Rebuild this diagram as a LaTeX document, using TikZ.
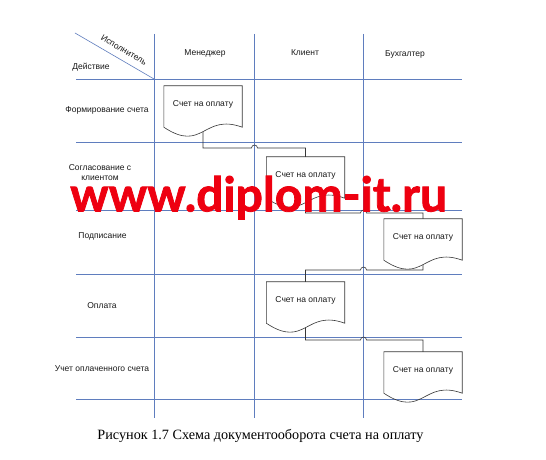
\documentclass[tikz,border=0pt]{standalone}
\usepackage{fontspec}
\setmainfont{Liberation Serif}
\setsansfont{Liberation Sans}
\newfontfamily\wmfont[FakeBold=1.6]{Lato}
\begin{document}
\begin{tikzpicture}[x=1pt,y=1pt,
  grid/.style={draw={rgb,255:red,95;green,125;blue,190}, line width=0.6pt},
  docline/.style={draw={rgb,255:red,55;green,55;blue,55}, line width=0.6pt},
  conn/.style={draw={rgb,255:red,55;green,55;blue,55}, line width=0.6pt},
  lbl/.style={font=\sffamily\fontsize{8.5}{10}\selectfont, text={rgb,255:red,25;green,25;blue,25}, inner sep=0pt, align=center},
  docbox/.style={minimum width=78pt, minimum height=45.4pt, inner sep=0pt, text depth=11pt,
    font=\sffamily\fontsize{8.5}{10}\selectfont, text={rgb,255:red,25;green,25;blue,25}}]
\useasboundingbox (0,0) rectangle (546,460);
\fill[white] (0,0) rectangle (546,460);
% grid
\foreach \y in {381,318,250,186,123,61} \draw[grid] (76,\y) -- (462,\y);
\foreach \x in {154,254.5,363.5} \draw[grid] (\x,426) -- (\x,42);
\draw[grid] (75,427) -- (154,381);
% header texts
\node[lbl, rotate=-30.2] (isp) at (124,410) {Исполнитель};
\node[lbl] (deis) at (91,393) {Действие};
\node[lbl] (man) at (205,407) {Менеджер};
\node[lbl] (cli) at (305,407) {Клиент};
\node[lbl] (buh) at (405,406) {Бухгалтер};
% row labels
\node[lbl] (r1) at (107,350) {Формирование счета};
\node[lbl] (r2) at (100,287) {Согласование с\\клиентом};
\node[lbl] (r3) at (102.5,224) {Подписание};
\node[lbl] (r4) at (102,154) {Оплата};
\node[lbl] (r5) at (102,91) {Учет оплаченного счета};
% documents
\newcommand\drawdoc[1]{%
  \draw[docline] ([yshift=4.4pt]#1.south west) -- (#1.north west) -- (#1.north east) -- ([yshift=4.4pt]#1.south east)
    .. controls ([yshift=18.7pt]#1.south) and ([yshift=-21.7pt]#1.south) .. ([yshift=4.4pt]#1.south west);}
\node[docbox] (d1) at (203,351.3) {Счет на оплату};
\node[docbox] (d2) at (305.5,280.3) {Счет на оплату};
\node[docbox] (d3) at (423,218.3) {Счет на оплату};
\node[docbox] (d4) at (305.5,155.3) {Счет на оплату};
\node[docbox] (d5) at (423,85.3) {Счет на оплату};
\drawdoc{d1}\drawdoc{d2}\drawdoc{d3}\drawdoc{d4}\drawdoc{d5}
% connectors with hops
\draw[conn] (d1.south) |- (251.5,312) arc[start angle=180,end angle=0,radius=3] -| (d2.north);
\draw[conn] (d2.south) |- (360.5,247) arc[start angle=180,end angle=0,radius=3] -| (d3.north);
\draw[conn] (d3.south) |- (366.5,190) arc[start angle=0,end angle=180,radius=3] -| (d4.north);
\draw[conn] (d4.south) |- (360.5,120) arc[start angle=180,end angle=0,radius=3] -| (d5.north);
% watermark
\node[text={rgb,255:red,238;green,0;blue,16}, font=\wmfont\bfseries\fontsize{48}{48}\selectfont, inner sep=0pt, anchor=base] (wm) at (258.5,248.5) {www.diplom-it.ru};
% caption
\node[font=\rmfamily\fontsize{14.2}{16}\selectfont, inner sep=0pt, anchor=base] (cap) at (260.5,20) {Рисунок 1.7 Схема документооборота счета на оплату};
\end{tikzpicture}
\end{document}
